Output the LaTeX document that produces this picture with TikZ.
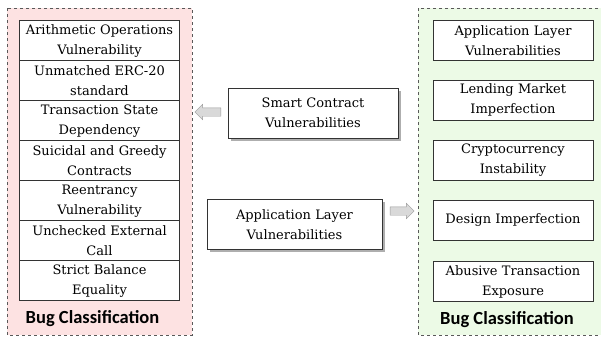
\documentclass[tikz,border=0pt]{standalone}
\usepackage{fontspec}
\setmainfont{DejaVu Serif}
\newfontfamily\titlefont{Carlito}
\usetikzlibrary{shapes.arrows,shadows}
\definecolor{bugpink}{RGB}{253,226,226}
\definecolor{buggreen}{RGB}{236,250,230}
\tikzset{
 groupbox/.style={draw=black!65, dashed, line width=0.8pt},
 bugbox/.style={draw=black!80, fill=white, line width=0.6pt, minimum width=160pt, minimum height=40pt, text width=158pt, align=center, inner sep=0pt, font=\fontsize{13}{20}\selectfont},
 vulnbox/.style={bugbox, minimum height=50pt, drop shadow={shadow xshift=2.5pt, shadow yshift=-2.5pt, fill=black!45, opacity=0.7}},
 grouptitle/.style={font=\titlefont\bfseries\fontsize{18.5}{22}\selectfont},
 hollowarrow/.style={single arrow, draw=gray!80, fill=gray!30, inner sep=4pt, minimum height=26pt, single arrow head extend=3.5pt}
}
\begin{document}
\begin{tikzpicture}[x=1pt,y=-1pt]
 \useasboundingbox (0,0) rectangle (601,338);
 \draw[groupbox, fill=bugpink] (7,8) rectangle (192,335);
 \draw[groupbox, fill=buggreen] (418,8) rectangle (610,335);
 \node[bugbox] (arith) at (99.5,40.7) {Arithmetic Operations\\Vulnerability};
 \node[bugbox] (erc) at (99.5,80.7) {Unmatched ERC-20\\standard};
 \node[bugbox] (tsd) at (99.5,120.7) {Transaction State\\Dependency};
 \node[bugbox] (suicidal) at (99.5,160.7) {Suicidal and Greedy\\Contracts};
 \node[bugbox] (reentrancy) at (99.5,200.7) {Reentrancy\\Vulnerability};
 \node[bugbox] (unchecked) at (99.5,240.7) {Unchecked External\\Call};
 \node[bugbox] (balance) at (99.5,280.7) {Strict Balance\\Equality};
 \node[grouptitle] (lefttitle) at (92.5,319) {Bug Classification};
 \node[vulnbox, minimum width=170pt] (smart) at (313,113) {Smart Contract\\Vulnerabilities};
 \node[vulnbox, minimum width=175pt] (applayer) at (294.5,224.5) {Application Layer\\Vulnerabilities};
 \node[hollowarrow, shape border rotate=180] (leftarrow) at (210,112) {};
 \node[hollowarrow, minimum height=24pt] (rightarrow) at (400,211) {};
 \node[bugbox] (appvuln) at (513,40.7) {Application Layer\\Vulnerabilities};
 \node[bugbox] (lending) at (513,100) {Lending Market\\Imperfection};
 \node[bugbox] (crypto) at (513,160) {Cryptocurrency\\Instability};
 \node[bugbox] (design) at (513,220) {Design Imperfection};
 \node[bugbox] (abusive) at (513,281.5) {Abusive Transaction\\Exposure};
 \node[grouptitle] (righttitle) at (507,320) {Bug Classification};
\end{tikzpicture}
\end{document}
